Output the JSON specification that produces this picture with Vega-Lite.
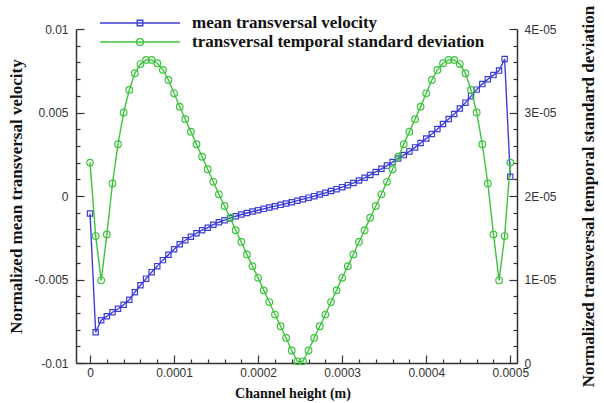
{
  "$schema": "https://vega.github.io/schema/vega-lite/v6.json",
  "width": 441,
  "height": 334,
  "autosize": {"type": "none"},
  "padding": {"left": 76, "top": 29, "right": 87, "bottom": 40},
  "background": "white",
  "datasets": {
    "profiles": [
      {"h": 0, "u": -0.00105, "sd": 2.40e-5},
      {"h": 0.0000067, "u": -0.00816, "sd": 1.52e-5},
      {"h": 0.0000133, "u": -0.00744, "sd": 0.99e-5},
      {"h": 0.0000200, "u": -0.00720, "sd": 1.54e-5},
      {"h": 0.0000267, "u": -0.00696, "sd": 2.15e-5},
      {"h": 0.0000333, "u": -0.00675, "sd": 2.62e-5},
      {"h": 0.0000400, "u": -0.00651, "sd": 3.00e-5},
      {"h": 0.0000467, "u": -0.00621, "sd": 3.27e-5},
      {"h": 0.0000533, "u": -0.00576, "sd": 3.47e-5},
      {"h": 0.0000600, "u": -0.00534, "sd": 3.58e-5},
      {"h": 0.0000667, "u": -0.00495, "sd": 3.63e-5},
      {"h": 0.0000733, "u": -0.00456, "sd": 3.63e-5},
      {"h": 0.0000800, "u": -0.00420, "sd": 3.59e-5},
      {"h": 0.0000867, "u": -0.00384, "sd": 3.51e-5},
      {"h": 0.0000933, "u": -0.00352, "sd": 3.39e-5},
      {"h": 0.0001000, "u": -0.00319, "sd": 3.23e-5},
      {"h": 0.0001067, "u": -0.00289, "sd": 3.07e-5},
      {"h": 0.0001133, "u": -0.00265, "sd": 2.92e-5},
      {"h": 0.0001200, "u": -0.00244, "sd": 2.77e-5},
      {"h": 0.0001267, "u": -0.00223, "sd": 2.62e-5},
      {"h": 0.0001333, "u": -0.00205, "sd": 2.47e-5},
      {"h": 0.0001400, "u": -0.00190, "sd": 2.32e-5},
      {"h": 0.0001467, "u": -0.00172, "sd": 2.17e-5},
      {"h": 0.0001533, "u": -0.00157, "sd": 2.02e-5},
      {"h": 0.0001600, "u": -0.00145, "sd": 1.88e-5},
      {"h": 0.0001667, "u": -0.00133, "sd": 1.74e-5},
      {"h": 0.0001733, "u": -0.00121, "sd": 1.59e-5},
      {"h": 0.0001800, "u": -0.00111, "sd": 1.45e-5},
      {"h": 0.0001867, "u": -0.00102, "sd": 1.30e-5},
      {"h": 0.0001933, "u": -0.00093, "sd": 1.16e-5},
      {"h": 0.0002000, "u": -0.00085, "sd": 1.02e-5},
      {"h": 0.0002067, "u": -0.00077, "sd": 0.87e-5},
      {"h": 0.0002133, "u": -0.00069, "sd": 0.73e-5},
      {"h": 0.0002200, "u": -0.00061, "sd": 0.58e-5},
      {"h": 0.0002267, "u": -0.00053, "sd": 0.44e-5},
      {"h": 0.0002333, "u": -0.00045, "sd": 0.30e-5},
      {"h": 0.0002400, "u": -0.00037, "sd": 0.15e-5},
      {"h": 0.0002467, "u": -0.00028, "sd": 0.02e-5},
      {"h": 0.0002533, "u": -0.00019, "sd": 0.02e-5},
      {"h": 0.0002600, "u": -0.00010, "sd": 0.15e-5},
      {"h": 0.0002667, "u": -0.00001, "sd": 0.30e-5},
      {"h": 0.0002733, "u": 0.00009, "sd": 0.44e-5},
      {"h": 0.0002800, "u": 0.00019, "sd": 0.58e-5},
      {"h": 0.0002867, "u": 0.00030, "sd": 0.73e-5},
      {"h": 0.0002933, "u": 0.00041, "sd": 0.87e-5},
      {"h": 0.0003000, "u": 0.00053, "sd": 1.02e-5},
      {"h": 0.0003067, "u": 0.00065, "sd": 1.16e-5},
      {"h": 0.0003133, "u": 0.00078, "sd": 1.30e-5},
      {"h": 0.0003200, "u": 0.00093, "sd": 1.45e-5},
      {"h": 0.0003267, "u": 0.00109, "sd": 1.59e-5},
      {"h": 0.0003333, "u": 0.00126, "sd": 1.74e-5},
      {"h": 0.0003400, "u": 0.00144, "sd": 1.88e-5},
      {"h": 0.0003467, "u": 0.00163, "sd": 2.02e-5},
      {"h": 0.0003533, "u": 0.00182, "sd": 2.17e-5},
      {"h": 0.0003600, "u": 0.00203, "sd": 2.32e-5},
      {"h": 0.0003667, "u": 0.00224, "sd": 2.47e-5},
      {"h": 0.0003733, "u": 0.00245, "sd": 2.62e-5},
      {"h": 0.0003800, "u": 0.00267, "sd": 2.77e-5},
      {"h": 0.0003867, "u": 0.00291, "sd": 2.92e-5},
      {"h": 0.0003933, "u": 0.00317, "sd": 3.07e-5},
      {"h": 0.0004000, "u": 0.00344, "sd": 3.23e-5},
      {"h": 0.0004067, "u": 0.00371, "sd": 3.39e-5},
      {"h": 0.0004133, "u": 0.00401, "sd": 3.51e-5},
      {"h": 0.0004200, "u": 0.00431, "sd": 3.59e-5},
      {"h": 0.0004267, "u": 0.00461, "sd": 3.63e-5},
      {"h": 0.0004333, "u": 0.00491, "sd": 3.63e-5},
      {"h": 0.0004400, "u": 0.00524, "sd": 3.58e-5},
      {"h": 0.0004467, "u": 0.00559, "sd": 3.47e-5},
      {"h": 0.0004533, "u": 0.00598, "sd": 3.27e-5},
      {"h": 0.0004600, "u": 0.00637, "sd": 3.00e-5},
      {"h": 0.0004667, "u": 0.00670, "sd": 2.62e-5},
      {"h": 0.0004733, "u": 0.00699, "sd": 2.15e-5},
      {"h": 0.0004800, "u": 0.00724, "sd": 1.54e-5},
      {"h": 0.0004867, "u": 0.00751, "sd": 0.99e-5},
      {"h": 0.0004933, "u": 0.00820, "sd": 1.52e-5},
      {"h": 0.0005000, "u": 0.00115, "sd": 2.40e-5}
    ],
    "series": [
      {"series": "mean transversal velocity"},
      {"series": "transversal temporal standard deviation"}
    ]
  },
  "data": {"name": "profiles"},
  "encoding": {
    "x": {
      "field": "h",
      "type": "quantitative",
      "scale": {"domain": [-0.0000167, 0.000508], "nice": false, "zero": false},
      "axis": {
        "title": "Channel height (m)",
        "titleFontSize": 14,
        "titleX": 216.5,
        "titleY": 30,
        "titleBaseline": "middle",
        "values": [0, 0.00002, 0.00004, 0.00006, 0.00008, 0.0001, 0.00012, 0.00014, 0.00016, 0.00018, 0.0002, 0.00022, 0.00024, 0.00026, 0.00028, 0.0003, 0.00032, 0.00034, 0.00036, 0.00038, 0.0004, 0.00042, 0.00044, 0.00046, 0.00048, 0.0005],
        "labelExpr": "abs(datum.value*10000 - round(datum.value*10000)) < 1e-6 ? (datum.value == 0 ? '0' : format(datum.value, '.4f')) : ''",
        "tickSize": {"condition": {"test": "abs(datum.value*10000 - round(datum.value*10000)) < 1e-6", "value": -8}, "value": -4},
        "labelPadding": 12
      }
    }
  },
  "layer": [
    {
      "mark": {
        "type": "line",
        "color": "#3d3dd8",
        "strokeWidth": 1.4,
        "point": {"shape": "square", "filled": false, "size": 28, "strokeWidth": 1.2, "color": "#3d3dd8"}
      },
      "encoding": {
        "y": {
          "field": "u",
          "type": "quantitative",
          "scale": {"domain": [-0.01, 0.01], "nice": false, "zero": false},
          "axis": {
            "orient": "left",
            "title": "Normalized mean transversal velocity",
            "titleAngle": 270,
            "titleX": -60,
            "titleBaseline": "middle",
            "values": [-0.01, -0.009, -0.008, -0.007, -0.006, -0.005, -0.004, -0.003, -0.002, -0.001, 0, 0.001, 0.002, 0.003, 0.004, 0.005, 0.006, 0.007, 0.008, 0.009, 0.01],
            "labelExpr": "abs(datum.value*200 - round(datum.value*200)) < 1e-6 ? (datum.value == 0 ? '0' : (datum.value < 0 ? '-' : '') + format(abs(datum.value), '~g')) : ''",
            "tickSize": {"condition": {"test": "abs(datum.value*200 - round(datum.value*200)) < 1e-6", "value": -8}, "value": -4},
            "labelPadding": 16
          }
        }
      }
    },
    {
      "mark": {
        "type": "line",
        "color": "#3cc43c",
        "strokeWidth": 1.4,
        "point": {"shape": "circle", "filled": false, "size": 44, "strokeWidth": 1.2, "color": "#3cc43c"}
      },
      "encoding": {
        "y": {
          "field": "sd",
          "type": "quantitative",
          "scale": {"domain": [0, 0.00004], "nice": false, "zero": false},
          "axis": {
            "orient": "right",
            "title": "Normalized transversal temporal standard deviation",
            "titleAngle": 270,
            "titleX": 71,
            "titleBaseline": "middle",
            "values": [0, 0.000002, 0.000004, 0.000006, 0.000008, 0.00001, 0.000012, 0.000014, 0.000016, 0.000018, 0.00002, 0.000022, 0.000024, 0.000026, 0.000028, 0.00003, 0.000032, 0.000034, 0.000036, 0.000038, 0.00004],
            "labelExpr": "abs(datum.value*100000 - round(datum.value*100000)) < 1e-6 ? (datum.value == 0 ? '0' : round(datum.value*100000) + 'E-05') : ''",
            "tickSize": {"condition": {"test": "abs(datum.value*100000 - round(datum.value*100000)) < 1e-6", "value": -8}, "value": -4},
            "labelPadding": 15
          }
        }
      }
    },
    {
      "data": {"name": "series"},
      "mark": {"type": "point", "opacity": 0},
      "encoding": {
        "color": {
          "field": "series",
          "type": "nominal",
          "scale": {"domain": ["mean transversal velocity", "transversal temporal standard deviation"], "range": ["#3d3dd8", "#3cc43c"]},
          "legend": {
            "orient": "none", "legendX": 54, "legendY": -16, "title": null, "direction": "vertical",
            "symbolSize": 324, "symbolStrokeWidth": 1.4, "symbolOpacity": 1,
            "labelFont": "Liberation Serif", "labelFontWeight": "bold", "labelFontSize": 17, "labelColor": "#111",
            "labelOffset": 42, "rowPadding": 1, "padding": 0, "labelLimit": 400
          }
        },
        "shape": {
          "field": "series",
          "type": "nominal",
          "scale": {"domain": ["mean transversal velocity", "transversal temporal standard deviation"], "range": ["M-4.44,0H4.44M-0.31,-0.31H0.31V0.31H-0.31Z", "M-4.44,0H4.44M0.38,0A0.38,0.38,0,1,1,-0.38,0A0.38,0.38,0,1,1,0.38,0Z"]},
          "legend": {
            "orient": "none", "legendX": 54, "legendY": -16, "title": null, "direction": "vertical",
            "symbolSize": 324, "symbolStrokeWidth": 1.4, "symbolOpacity": 1,
            "labelFont": "Liberation Serif", "labelFontWeight": "bold", "labelFontSize": 17, "labelColor": "#111",
            "labelOffset": 42, "rowPadding": 1, "padding": 0, "labelLimit": 400
          }
        }
      }
    }
  ],
  "resolve": {"scale": {"y": "independent"}},
  "config": {
    "view": {"stroke": null},
    "axis": {
      "grid": false,
      "domainColor": "#333333",
      "domainWidth": 1.5,
      "tickColor": "#333333",
      "tickWidth": 1.2,
      "labelFont": "Liberation Sans",
      "labelFontSize": 12,
      "labelColor": "#333333",
      "labelOverlap": false,
      "labelFlush": false,
      "titleFont": "Liberation Serif",
      "titleFontWeight": "bold",
      "titleFontSize": 17,
      "titleColor": "#111111"
    }
  }
}
